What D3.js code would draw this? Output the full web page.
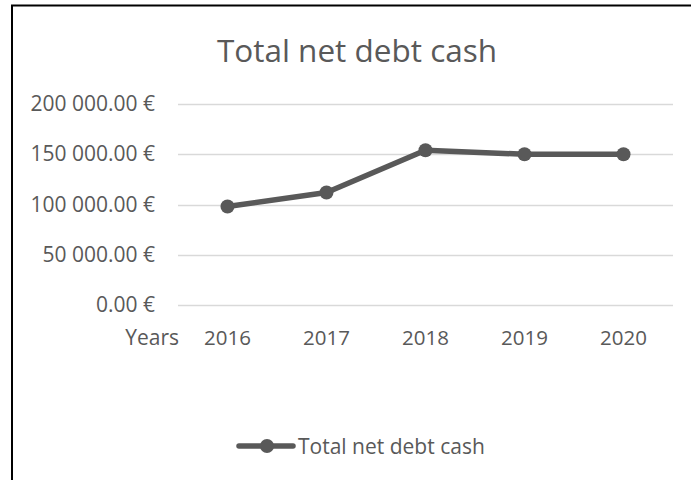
<!DOCTYPE html>
<html>
<head>
<meta charset="utf-8">
<script src="https://cdn.jsdelivr.net/npm/d3@7"></script>
<style>
  html, body { margin: 0; padding: 0; background: #fff; }
  svg { display: block; }
  text { font-family: "Open Sans", sans-serif; fill: #595959; }
</style>
</head>
<body>
<svg id="chart" width="691" height="480"></svg>
<script>
// Series data
const years = ["2016", "2017", "2018", "2019", "2020"];
const netDebtCash = [98000, 112000, 154000, 150000, 150000];
const yTicks = [0, 50000, 100000, 150000, 200000];
const titleText = "Total net debt cash";
const seriesName = "Total net debt cash";
const categoryAxisLabel = "Years";

const svg = d3.select("#chart");
const W = 691, H = 480;
const plot = { left: 178, right: 673, top: 104, bottom: 305 };
const ink = "#595959";
const seriesColor = "#595959";

// Chart frame (top and left edges visible)
svg.append("path")
  .attr("d", `M12,${H + 2} L12,5.5 L${W + 2},5.5`)
  .attr("fill", "none")
  .attr("stroke", "#000")
  .attr("stroke-width", 2);

// Title
svg.append("text")
  .attr("x", 357)
  .attr("y", 62)
  .attr("text-anchor", "middle")
  .style("font-size", "31.5px")
  .text(titleText);

const x = d3.scaleBand().domain(years).range([plot.left, plot.right]);
const y = d3.scaleLinear().domain([0, 200000]).range([plot.bottom, plot.top]);

const euro = v => d3.format(",.2f")(v).replace(/,/g, "\u00a0") + "\u00a0€";

// Horizontal gridlines
svg.append("g")
  .selectAll("line")
  .data(yTicks)
  .join("line")
  .attr("x1", plot.left)
  .attr("x2", plot.right)
  .attr("y1", d => Math.round(y(d)) + 0.5)
  .attr("y2", d => Math.round(y(d)) + 0.5)
  .attr("stroke", "#d9d9d9")
  .attr("stroke-width", 1.3);

// Value axis labels
const yAxis = d3.axisLeft(y).tickValues(yTicks).tickFormat(euro).tickSize(0).tickPadding(23);
const gy = svg.append("g").attr("transform", `translate(${plot.left},0)`).call(yAxis);
gy.select(".domain").remove();
gy.selectAll("text")
  .style("font-size", "21px")
  .style("font-family", "'Open Sans', sans-serif")
  .attr("fill", ink);

// Category axis labels
const xAxis = d3.axisBottom(x).tickSize(0).tickPadding(0);
const gx = svg.append("g").attr("transform", `translate(0,${plot.bottom})`).call(xAxis);
gx.select(".domain").remove();
gx.selectAll("text")
  .attr("dy", null)
  .attr("y", 40)
  .style("font-size", "20.5px")
  .style("font-family", "'Open Sans', sans-serif")
  .attr("fill", ink);

svg.append("text")
  .attr("x", plot.left + 1)
  .attr("y", plot.bottom + 40)
  .attr("text-anchor", "end")
  .style("font-size", "21px")
  .text(categoryAxisLabel);

// Series line and markers
const line = d3.line()
  .x((d, i) => x(years[i]) + x.bandwidth() / 2)
  .y(d => y(d));

svg.append("path")
  .datum(netDebtCash)
  .attr("d", line)
  .attr("fill", "none")
  .attr("stroke", seriesColor)
  .attr("stroke-width", 5.5)
  .attr("stroke-linejoin", "round");

svg.append("g")
  .selectAll("circle")
  .data(netDebtCash)
  .join("circle")
  .attr("cx", (d, i) => x(years[i]) + x.bandwidth() / 2)
  .attr("cy", d => y(d))
  .attr("r", 7)
  .attr("fill", seriesColor);

// Legend
const lg = svg.append("g").attr("transform", "translate(239,446)");
lg.append("line")
  .attr("x1", 0).attr("x2", 54)
  .attr("stroke", seriesColor)
  .attr("stroke-width", 5.5)
  .attr("stroke-linecap", "round");
lg.append("circle")
  .attr("cx", 28).attr("cy", 0).attr("r", 7)
  .attr("fill", seriesColor);
lg.append("text")
  .attr("x", 59)
  .attr("y", 7.5)
  .style("font-size", "21px")
  .text(seriesName);
</script>
</body>
</html>
